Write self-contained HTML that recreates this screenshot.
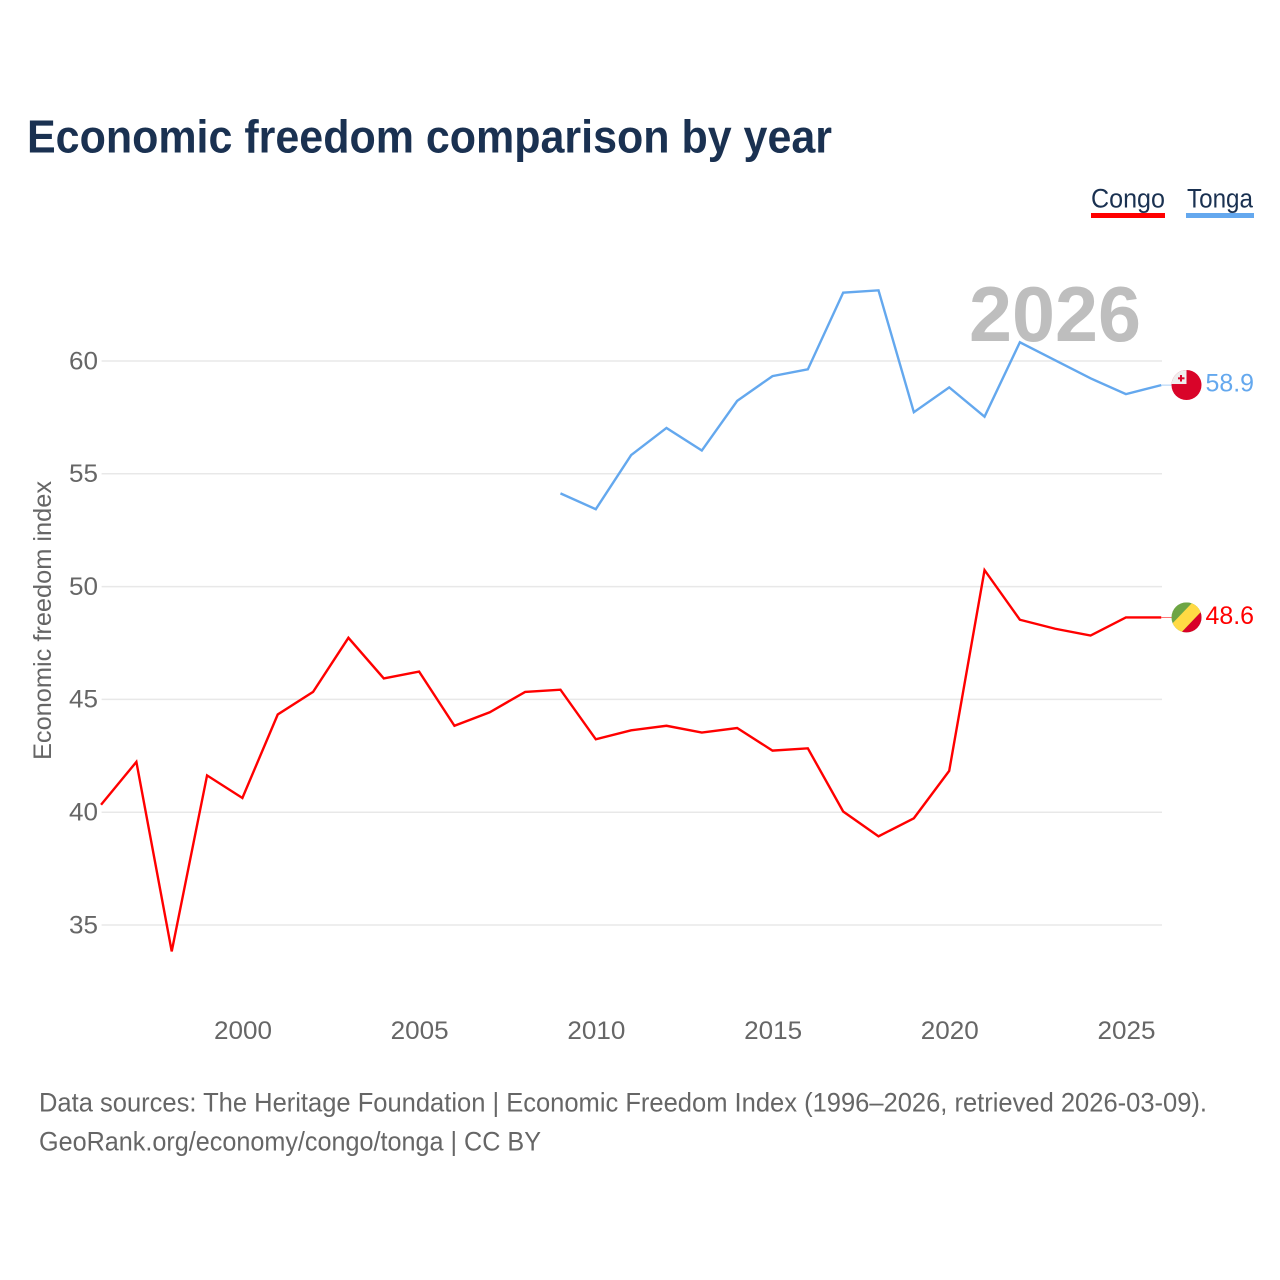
<!DOCTYPE html>
<html lang="en">
<head>
<meta charset="utf-8">
<title>Economic freedom comparison by year</title>
<style>
html,body{margin:0;padding:0;background:#fff;}
svg{display:block;font-family:"Liberation Sans",sans-serif;}
</style>
</head>
<body>
<svg id="chart" xmlns="http://www.w3.org/2000/svg" width="1280" height="1280" viewBox="0 0 1280 1280">
  <rect width="1280" height="1280" fill="#fff"/>
  <text x="27" y="152.5" font-size="46" font-weight="700" fill="#1a3151" textLength="805" lengthAdjust="spacingAndGlyphs">Economic freedom comparison by year</text>

  <g>
    <g>
      <text x="1091" y="207.5" font-size="27" fill="#1a3151" textLength="74" lengthAdjust="spacingAndGlyphs">Congo</text>
      <rect x="1091" y="213" width="74" height="5" fill="#ff0000"/>
    </g>
    <g>
      <text x="1187" y="207.5" font-size="27" fill="#1a3151" textLength="66" lengthAdjust="spacingAndGlyphs">Tonga</text>
      <rect x="1186" y="213" width="68" height="5" fill="#64a8ee"/>
    </g>
  </g>

  <g id="grid"></g>
  <text x="969" y="341" font-size="78" font-weight="700" fill="#bebebe" textLength="172" lengthAdjust="spacingAndGlyphs">2026</text>
  <g id="yticks"></g>
  <g id="xticks"></g>
  <text transform="translate(51,760) rotate(-90)" font-size="25" fill="#666" textLength="279" lengthAdjust="spacingAndGlyphs">Economic freedom index</text>
  <g id="series" transform="translate(-0.6,-0.7)"></g>
  <g id="ends"></g>

  <g>
    <text x="39" y="1111.5" font-size="27" fill="#666" textLength="1168" lengthAdjust="spacingAndGlyphs">Data sources: The Heritage Foundation | Economic Freedom Index (1996–2026, retrieved 2026-03-09).</text>
    <text x="39" y="1150.5" font-size="27" fill="#666" textLength="502" lengthAdjust="spacingAndGlyphs">GeoRank.org/economy/congo/tonga | CC BY</text>
  </g>
</svg>
<script>
const yTicks = [35, 40, 45, 50, 55, 60];
const xTicks = [2000, 2005, 2010, 2015, 2020, 2025];
const congoYears = [1996,1997,1998,1999,2000,2001,2002,2003,2004,2005,2006,2007,2008,2009,2010,2011,2012,2013,2014,2015,2016,2017,2018,2019,2020,2021,2022,2023,2024,2025,2026];
const congoValues = [40.3,42.2,33.8,41.6,40.6,44.3,45.3,47.7,45.9,46.2,43.8,44.4,45.3,45.4,43.2,43.6,43.8,43.5,43.7,42.7,42.8,40.0,38.9,39.7,41.8,50.7,48.5,48.1,47.8,48.6,48.6];
const tongaYears = [2009,2010,2011,2012,2013,2014,2015,2016,2017,2018,2019,2020,2021,2022,2023,2024,2025,2026];
const tongaValues = [54.1,53.4,55.8,57.0,56.0,58.2,59.3,59.6,63.0,63.1,57.7,58.8,57.5,60.8,60.0,59.2,58.5,58.9];

const NS = 'http://www.w3.org/2000/svg';
const xScale = function (year) { return 243 + (year - 2000) * 35.34; };
const yScale = function (value) { return 361 + (60 - value) * 22.56; };

function make(parent, tag, attrs) {
  const el = document.createElementNS(NS, tag);
  for (const k in attrs) el.setAttribute(k, attrs[k]);
  parent.appendChild(el);
  return el;
}

const gridG = document.getElementById('grid');
const yG = document.getElementById('yticks');
yTicks.forEach(function (t) {
  const line = make(gridG, 'line', {x1: 101.6, x2: 1162, y1: yScale(t), y2: yScale(t), stroke: '#e8e8e8', 'stroke-width': 1.5});
  
  
  const label = make(yG, 'text', {x: 98, y: yScale(t) + 8.3, 'text-anchor': 'end', 'font-size': 25, fill: '#666', textLength: 29, lengthAdjust: 'spacingAndGlyphs'});
  
  
  label.textContent = t;
});

const xG = document.getElementById('xticks');
xTicks.forEach(function (t) {
  const label = make(xG, 'text', {x: xScale(t), y: 1039, 'text-anchor': 'middle', 'font-size': 25, fill: '#666', textLength: 58, lengthAdjust: 'spacingAndGlyphs'});
  
  
  label.textContent = t;
});

function linePath(years, values) {
  return years.map(function (y, i) {
    return (i ? 'L' : 'M') + xScale(y).toFixed(2) + ' ' + yScale(values[i]).toFixed(2);
  }).join(' ');
}

const seriesG = document.getElementById('series');
const congoLine = make(seriesG, 'path', {d: linePath(congoYears, congoValues), fill: 'none', stroke: '#ff0000', 'stroke-width': 2.4, 'stroke-linejoin': 'miter'});


const tongaLine = make(seriesG, 'path', {d: linePath(tongaYears, tongaValues), fill: 'none', stroke: '#64a8ee', 'stroke-width': 2.4, 'stroke-linejoin': 'miter'});



const endsG = document.getElementById('ends');
const defs = make(document.getElementById('chart'), 'defs', {});
const FLAG_X = 1186.5;
const FLAG_R = 15;

function clipFor(id, cy) {
  const cp = make(defs, 'clipPath', {id: id});
  make(cp, 'circle', {cx: FLAG_X, cy: cy, r: FLAG_R});
}

function endLabel(name, value, color) {
  const cy = yScale(value) - 0.8;
  const conn = make(endsG, 'line', {x1: xScale(2026) - 0.6, x2: FLAG_X - FLAG_R, y1: yScale(value) - 0.7, y2: yScale(value) - 0.7, stroke: color, 'stroke-width': 1, opacity: 0.55});
  
  
  const txt = make(endsG, 'text', {x: 1205.5, y: yScale(value) + 5.8, 'font-size': 25, fill: color, textLength: 48.5, lengthAdjust: 'spacingAndGlyphs'});
  
  
  txt.textContent = value.toFixed(1);
  return cy;
}

const tongaLast = tongaValues[tongaValues.length - 1];
const tcy = endLabel('tonga', tongaLast, '#64a8ee');
clipFor('clip-tonga', tcy);
const tFlag = make(endsG, 'g', {'clip-path': 'url(#clip-tonga)'});


make(tFlag, 'rect', {x: FLAG_X - FLAG_R, y: tcy - FLAG_R, width: 2 * FLAG_R, height: 2 * FLAG_R, fill: '#d90429'});
make(tFlag, 'rect', {x: FLAG_X - FLAG_R, y: tcy - FLAG_R, width: 15, height: 14, fill: '#eeeeee'});
make(tFlag, 'rect', {x: FLAG_X - 6.5, y: tcy - 10, width: 2, height: 6.5, fill: '#d90429'});
make(tFlag, 'rect', {x: FLAG_X - 8.5, y: tcy - 7.7, width: 6.5, height: 2, fill: '#d90429'});

const congoLast = congoValues[congoValues.length - 1];
const ccy = endLabel('congo', congoLast, '#ff0000');
clipFor('clip-congo', ccy);
const cFlag = make(endsG, 'g', {'clip-path': 'url(#clip-congo)'});


make(cFlag, 'rect', {x: FLAG_X - FLAG_R, y: ccy - FLAG_R, width: 2 * FLAG_R, height: 2 * FLAG_R, fill: '#6da544'});
make(cFlag, 'polygon', {points: [FLAG_X + 7, ccy - 16, FLAG_X + 16, ccy - 7, FLAG_X - 6, ccy + 16, FLAG_X - 16, ccy + 16, FLAG_X - 16, ccy + 8].join(' '), fill: '#ffda44'});
make(cFlag, 'polygon', {points: [FLAG_X + 16, ccy - 7, FLAG_X + 16, ccy + 16, FLAG_X - 6, ccy + 16].join(' '), fill: '#d80027'});
</script>
</body>
</html>
